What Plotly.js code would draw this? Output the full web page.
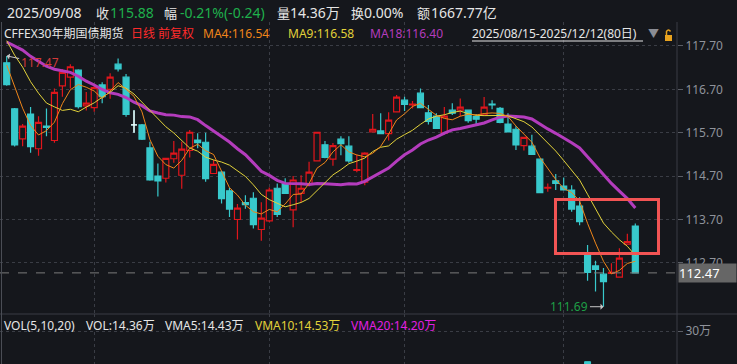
<!DOCTYPE html>
<html><head><meta charset="utf-8">
<script src="https://cdn.plot.ly/plotly-3.0.1.min.js"></script>
<style>html,body{margin:0;padding:0;background:#15171c;overflow:hidden}#chart{width:737px;height:364px}</style>
</head><body><div id="chart"></div>
<script>
// ---------------- data ----------------
const dates = [
 '2025-08-15','2025-08-18','2025-08-19','2025-08-20','2025-08-21','2025-08-22','2025-08-25','2025-08-26','2025-08-27','2025-08-28','2025-08-29',
 '2025-09-01','2025-09-02','2025-09-03','2025-09-04','2025-09-05','2025-09-08','2025-09-09','2025-09-10','2025-09-11','2025-09-12','2025-09-15',
 '2025-09-16','2025-09-17','2025-09-18','2025-09-19','2025-09-22','2025-09-23','2025-09-24','2025-09-25','2025-09-26','2025-09-29','2025-09-30',
 '2025-10-09','2025-10-10','2025-10-13','2025-10-14','2025-10-15','2025-10-16','2025-10-17','2025-10-20','2025-10-21','2025-10-22','2025-10-23',
 '2025-10-24','2025-10-27','2025-10-28','2025-10-29','2025-10-30','2025-10-31',
 '2025-11-03','2025-11-04','2025-11-05','2025-11-06','2025-11-07','2025-11-10','2025-11-11','2025-11-12','2025-11-13','2025-11-14','2025-11-17',
 '2025-11-18','2025-11-19','2025-11-20','2025-11-21','2025-11-24','2025-11-25','2025-11-26','2025-11-27','2025-11-28',
 '2025-12-01','2025-12-02','2025-12-03','2025-12-04','2025-12-05','2025-12-08','2025-12-09','2025-12-10','2025-12-11','2025-12-12'
];
const opens = [117.31,116.25,115.56,116.13,115.33,115.85,115.52,116.78,116.98,117.14,116.32,116.28,116.80,116.70,117.28,116.98,115.88,115.88,115.35,114.70,
 114.65,115.10,114.72,115.29,115.53,115.48,114.76,114.79,114.36,113.70,114.09,114.19,113.47,113.67,114.42,114.52,113.92,114.30,114.52,115.05,
 115.42,115.09,115.55,115.39,114.83,114.56,115.72,115.74,115.68,116.18,116.45,116.34,116.61,116.16,116.08,115.69,116.22,116.22,116.22,116.07,
 116.11,116.36,116.26,115.90,115.78,115.40,115.39,115.09,114.42,114.59,114.47,114.38,114.01,112.87,112.63,112.44,112.46,112.37,113.13,113.55];
const highs = [117.47,116.27,115.90,116.29,116.08,116.26,116.72,117.16,117.28,117.16,116.64,116.82,116.86,117.07,117.41,117.05,116.22,115.90,115.49,114.99,
 115.12,115.51,115.49,115.76,115.69,115.70,115.07,114.82,114.43,114.06,114.26,114.33,114.10,114.44,114.53,114.65,114.70,114.72,115.03,115.71,
 115.51,115.46,115.62,115.62,115.19,115.25,116.13,116.15,116.17,116.57,116.53,116.43,116.72,116.34,116.15,116.29,116.38,116.49,116.22,116.13,
 116.52,116.45,116.29,116.15,115.85,115.59,115.65,115.09,114.53,114.75,114.67,114.49,114.21,113.11,112.75,112.58,112.69,113.04,113.37,113.61];
const lows = [116.78,115.38,115.39,115.24,115.17,115.62,115.47,116.53,116.72,116.26,116.21,116.18,116.38,116.48,117.11,116.07,115.70,115.53,114.59,114.23,
 114.55,115.01,114.41,115.13,115.34,114.57,114.76,114.07,113.76,113.24,113.95,113.49,113.21,113.64,113.76,114.29,113.52,114.10,114.46,115.05,
 115.11,114.94,115.18,115.01,114.79,114.49,115.72,115.68,115.52,116.18,116.20,116.26,116.28,115.89,115.80,115.65,116.11,116.08,115.93,115.90,
 116.11,116.24,115.92,115.72,115.30,115.29,115.20,114.32,114.34,114.38,114.38,113.88,113.57,112.29,112.04,111.69,112.46,112.37,113.13,112.47];
const closes = [116.81,115.42,115.85,115.38,115.94,115.82,116.63,117.09,117.22,116.30,116.38,116.74,116.53,116.98,117.17,116.12,115.88,115.55,114.61,114.59,
 115.11,115.23,115.32,115.71,115.47,114.64,114.97,114.18,113.94,113.96,114.04,113.58,113.73,114.38,113.82,114.30,114.61,114.42,114.79,115.71,
 115.13,115.40,115.45,115.05,114.85,115.23,115.78,115.68,115.99,116.52,116.35,116.36,116.28,115.96,115.80,116.08,116.15,116.29,115.98,116.01,
 116.29,116.34,115.94,115.72,115.42,115.59,115.20,114.32,114.44,114.53,114.38,113.94,113.65,112.48,112.55,112.27,112.48,112.81,113.19,112.47];
// closes of the 17 sessions before the window (estimated from where the MA lines start)
const priorCloses = [116.94,117.70,117.95,118.05,117.80,117.90,117.75,117.85,117.90,118.45,118.30,118.40,118.33,117.86,117.42,117.83,116.98];
// volume, 万 lots (only the tallest bar reaches the visible strip)
const volumes = [13.2,15.8,12.4,14.1,13.6,11.9,16.2,15.1,14.4,16.8,12.2,13.5,12.8,14.6,13.1,15.9,14.36,13.8,17.2,14.1,
 12.9,11.8,15.2,14.7,11.6,16.5,12.3,15.4,14.8,15.6,11.2,14.9,15.3,16.1,14.2,10.9,13.7,10.4,12.1,17.1,
 13.3,12.6,11.4,13.2,10.8,14.5,14.9,12.7,12.2,15.8,11.9,10.6,13.4,12.8,12.5,13.9,10.7,10.9,12.3,10.5,
 12.6,9.8,12.7,11.8,14.6,12.1,13.2,17.6,12.4,12.9,11.5,12.2,15.9,20.7,17.4,18.6,14.8,15.2,14.1,16.3];
const flatWhiteIdx = [16];
const priceTicks = [112.70,113.70,114.70,115.70,116.70,117.70];
const volTicks = [30];
const volTickText = ['30万'];
const headerItems = [
 ['2025/09/08','w'],['收','w'],['115.88','g'],['幅','w'],['-0.21%(-0.24)','g'],['量','w'],['14.36万','w'],['换','w'],['0.00%','w'],['额','w'],['1667.77亿','w']];
const legendItems = [['CFFEX30年期国债期货','w'],['日线','r'],['前复权','r'],['MA4:116.54','ma4'],['MA9:116.58','ma9'],['MA18:116.40','ma18'],['2025/08/15-2025/12/12(80日)','w']];
const volItems = [['VOL(5,10,20)','w'],['VOL:14.36万','w'],['VMA5:14.43万','w'],['VMA10:14.53万','ma9'],['VMA20:14.20万','vma20']];

// ---------------- style ----------------
const W = 737, H = 364, PW = 677;   // PW = plot-area width (paper units span it)
const BG = '#15171c', GRID = '#3a3d45';
const RED = '#e0161c', CYAN = '#38c9cc';
const COL = {w:'#e6e6e6', g:'#1fb04c', r:'#ff2b2b', ma4:'#f0861a', ma9:'#e2d23a', ma18:'#b43cbd', vma20:'#e21fe2'};
const FONT = 'Noto Sans, Noto Sans CJK SC, sans-serif';
const px = x => x / PW, py = y => 1 - y / H;

function sma(n) {
  const all = priorCloses.concat(closes), off = priorCloses.length;
  return closes.map((_, i) => { let s = 0; for (let k = off + i - n + 1; k <= off + i; k++) s += all[k]; return s / n; });
}

const traces = [
  {type:'candlestick', x:dates, open:opens, high:highs, low:lows, close:closes,
   increasing:{line:{color:RED,width:1.2}, fillcolor:BG}, decreasing:{line:{color:CYAN,width:1.2}, fillcolor:CYAN},
   whiskerwidth:0, hoverinfo:'skip', xaxis:'x', yaxis:'y'},
  {type:'candlestick', x:flatWhiteIdx.map(i=>dates[i]), open:flatWhiteIdx.map(i=>opens[i]), high:flatWhiteIdx.map(i=>highs[i]),
   low:flatWhiteIdx.map(i=>lows[i]), close:flatWhiteIdx.map(i=>closes[i]),
   increasing:{line:{color:'#ffffff',width:1.4}, fillcolor:'#ffffff'}, decreasing:{line:{color:'#ffffff',width:1.4}, fillcolor:'#ffffff'},
   whiskerwidth:0, hoverinfo:'skip', xaxis:'x', yaxis:'y'},
  {type:'scatter', mode:'lines', x:dates, y:sma(18), line:{color:COL.ma18, width:3}, hoverinfo:'skip'},
  {type:'scatter', mode:'lines', x:dates, y:sma(9), line:{color:COL.ma9, width:1}, hoverinfo:'skip'},
  {type:'scatter', mode:'lines', x:dates, y:sma(4), line:{color:COL.ma4, width:1}, hoverinfo:'skip'},
  {type:'bar', x:dates, y:volumes, yaxis:'y2', width:0.75,
   marker:{color:closes.map((c,i)=>c>=opens[i]?BG:CYAN), line:{color:closes.map((c,i)=>c>=opens[i]?RED:CYAN), width:1}}, hoverinfo:'skip'}
];

// month-start grid lines
const monthStarts = dates.filter((d,i)=> i>0 && d.slice(5,7)!==dates[i-1].slice(5,7));

const ann = [];
function txt(x, y, s, color, size) {
  ann.push({xref:'paper', yref:'paper', x:px(x), y:py(y), xanchor:'left', yanchor:'middle', text:s, showarrow:false,
            borderpad:0, font:{family:FONT, size:size, color:color}});
}
const headerX = [7,96,110,164,180,277,290,351,364,417,431];
const isCJK = s => /^[\u4e00-\u9fff]+$/.test(s);
headerItems.forEach((it,i)=>txt(headerX[i]-1, 13, it[0], COL[it[1]], isCJK(it[0]) ? 13 : 14));
const legendX = [4,131,158,203,288,370,472];
legendItems.forEach((it,i)=>txt(legendX[i]-1, 33, it[0], COL[it[1]], 12));
txt(647, 33, '▼', '#8a8d94', 11);
const volX = [4,86,165,255,351];
volItems.forEach((it,i)=>txt(volX[i]-1, 325, it[0], COL[it[1]], 12));

// extreme annotations
const iMax = highs.indexOf(Math.max(...highs));
const iMin = lows.indexOf(Math.min(...lows));
ann.push({x:dates[iMax], y:highs[iMax], xref:'x', yref:'y', text:highs[iMax].toFixed(2), showarrow:true, ax:33, ay:7,
  arrowhead:1, arrowsize:1, arrowwidth:1, arrowcolor:'#c8c8c8', standoff:0, font:{family:FONT, size:12, color:'#d33a3a'}});
ann.push({x:dates[iMin], y:lows[iMin], xref:'x', yref:'y', text:lows[iMin].toFixed(2), showarrow:true, ax:-34, ay:0,
  arrowhead:1, arrowsize:1, arrowwidth:1, arrowcolor:'#c8c8c8', standoff:0, font:{family:FONT, size:12, color:'#1e9e46'}});
// last price box
const last = closes[closes.length-1];
ann.push({xref:'paper', yref:'y', x:px(678), y:last, xanchor:'left', yanchor:'middle', text:last.toFixed(2), showarrow:false,
  bgcolor:'#666666', width:57, height:18, align:'left', borderpad:0, font:{family:FONT, size:13, color:'#ffffff'}});

const shapes = [
  {type:'line', xref:'paper', yref:'y', x0:0, x1:1, y0:last, y1:last, line:{color:'#7a7a7a', width:1, dash:'dash'}},
  {type:'line', xref:'paper', yref:'paper', x0:0, x1:px(W), y0:py(314), y1:py(314), line:{color:GRID, width:1}},
  {type:'line', xref:'paper', yref:'paper', x0:px(677), x1:px(677), y0:py(22), y1:0, line:{color:GRID, width:1}},
  {type:'line', xref:'paper', yref:'paper', x0:px(1.5), x1:px(1.5), y0:py(22), y1:0, line:{color:'#4a4d55', width:1}},
  {type:'line', xref:'paper', yref:'paper', x0:px(472), x1:px(643), y0:py(41), y1:py(41), line:{color:'#e6e6e6', width:1}},
  // lock icon
  {type:'rect', xref:'paper', yref:'paper', x0:px(665), x1:px(672), y0:py(41), y1:py(35), fillcolor:'#e8a21e', line:{width:0}},
  {type:'path', xref:'paper', yref:'paper', path:`M ${px(666.5)} ${py(35)} L ${px(666.5)} ${py(31.5)} Q ${px(668.5)} ${py(28.5)} ${px(670.5)} ${py(31.5)}`,
   line:{color:'#e8a21e', width:1.5}},
  // highlight box
  {type:'rect', xref:'paper', yref:'paper', x0:px(555.5), x1:px(658.5), y0:py(253.5), y1:py(199.5), line:{color:'#f25454', width:3}}
];

const layout = {
  width:W, height:H, margin:{l:0, r:W-PW, t:0, b:0}, paper_bgcolor:BG, plot_bgcolor:BG,
  showlegend:false, hovermode:false, dragmode:false, boxgap:0.25, boxgroupgap:0, bargap:0.2,
  xaxis:{type:'category', range:[-0.842, 84.24], rangeslider:{visible:false}, showticklabels:false, ticks:'',
    tickvals:monthStarts, showgrid:true, gridcolor:GRID, griddash:'dot', gridwidth:1, zeroline:false, showline:false, fixedrange:true},
  yaxis:{domain:[50/H, 342/H], range:[111.5226, 118.2507], side:'right', tickvals:priceTicks, ticktext:priceTicks.map(v=>v.toFixed(2)),
    showgrid:true, gridcolor:GRID, griddash:'dot', zeroline:false, ticks:'outside', ticklen:5, tickcolor:'#5a5d65',
    tickfont:{family:FONT, size:12, color:'#8f939b'}, showline:false, fixedrange:true},
  yaxis2:{domain:[0, 50/H], range:[20, 35.15], side:'right', tickvals:volTicks, ticktext:volTickText,
    showgrid:true, gridcolor:GRID, griddash:'dot', zeroline:false, ticks:'outside', ticklen:5, tickcolor:'#5a5d65',
    tickfont:{family:FONT, size:12, color:'#8f939b'}, showline:false, fixedrange:true},
  annotations:ann, shapes:shapes
};
Plotly.newPlot('chart', traces, layout, {staticPlot:true, displayModeBar:false});
</script></body></html>
